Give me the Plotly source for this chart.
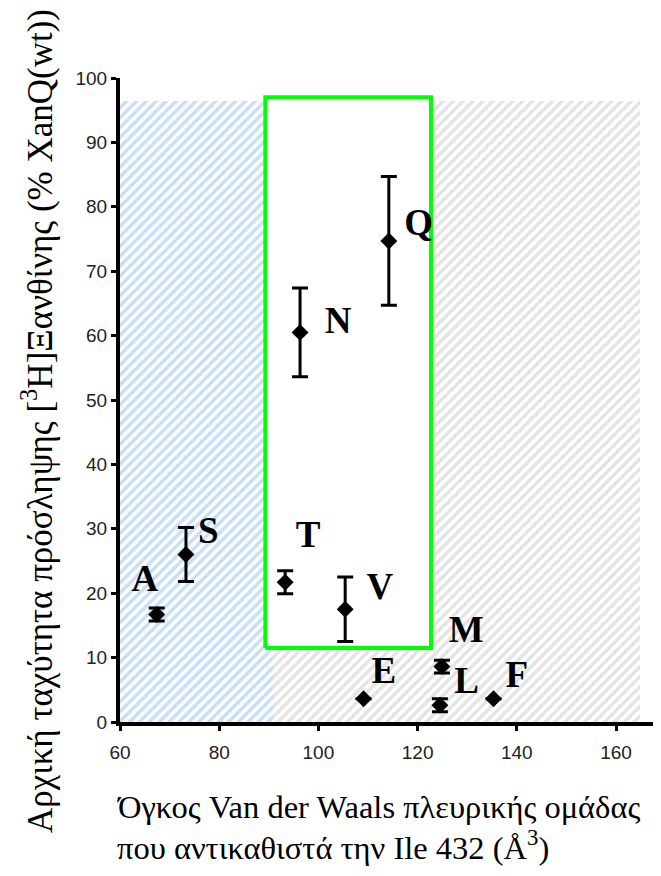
import plotly.graph_objects as go

# ---- data ----
labels = ["A", "S", "T", "N", "V", "Q", "E", "M", "L", "F"]
volume = [67.4, 73.3, 93.3, 96.3, 105.4, 114.2, 109.1, 124.9, 124.5, 135.3]
uptake = [16.7, 26.0, 21.7, 60.5, 17.5, 74.7, 3.6, 8.6, 2.6, 3.6]
error = [1.0, 4.2, 1.8, 6.9, 5.0, 10.0, 0.0, 1.0, 1.0, 0.0]

label_x = [65.0, 77.8, 97.9, 104.0, 112.4, 120.2, 113.2, 129.8, 129.9, 140.0]
label_y = [21.8, 29.3, 28.6, 61.9, 20.6, 77.0, 7.5, 13.8, 6.0, 6.9]

# shaded regions: [x0, x1, y0, y1]
blue_region = [60.0, 90.8, 0.0, 96.5]
gray_region = [90.8, 164.8, 0.0, 96.5]
green_box = [89.3, 122.7, 11.5, 97.0]

x_ticks = [60, 80, 100, 120, 140, 160]
y_ticks = [0, 10, 20, 30, 40, 50, 60, 70, 80, 90, 100]

x_title_1 = "Όγκος Van der Waals πλευρικής ομάδας"
x_title_2 = "που αντικαθιστά την Ile 432 (Å<sup>3</sup>)"
y_title = "Αρχική ταχύτητα πρόσληψης [<sup>3</sup>H]Ξανθίνης (% XanQ(wt))"

# page body has an 8px margin: figure is sized to fit inside the window
W, H = 645, 860
L, R, T, B = 112, 0, 70, 146
PW, PH = W - L - R, H - T - B
X_PER_UNIT = 4.96
x_max = 60 + PW / X_PER_UNIT

fig = go.Figure()

def region_bar(reg, fg):
    x0, x1, y0, y1 = reg
    return go.Bar(
        x=[(x0 + x1) / 2], y=[y1 - y0], base=[y0], width=[x1 - x0],
        marker=dict(color="white", line=dict(width=0),
                    pattern=dict(shape="/", fgcolor=fg, bgcolor="white",
                                 size=7, solidity=0.5, fillmode="overlay")),
        hoverinfo="skip", showlegend=False)

fig.add_trace(region_bar(blue_region, "#8dbff0"))
fig.add_trace(region_bar(gray_region, "#c8c8c8"))

# green box (white filled)
gx0, gx1, gy0, gy1 = green_box
fig.add_trace(go.Scatter(
    x=[gx0, gx1, gx1, gx0, gx0], y=[gy0, gy0, gy1, gy1, gy0],
    mode="lines", fill="toself", fillcolor="white",
    line=dict(color="#00ff00", width=4), hoverinfo="skip", showlegend=False))

# data points
fig.add_trace(go.Scatter(
    x=volume, y=uptake, mode="markers",
    marker=dict(symbol="diamond", size=13, color="black"),
    error_y=dict(type="data", array=error, visible=True, color="black",
                 thickness=3, width=8),
    showlegend=False))

# labels
fig.add_trace(go.Scatter(
    x=label_x, y=label_y, mode="text", text=labels,
    textfont=dict(family="Liberation Serif", size=37, color="black", weight="bold"),
    textposition="middle center", showlegend=False, hoverinfo="skip"))

fig.update_layout(
    width=W, height=H,
    margin=dict(l=L, r=R, t=T, b=B, autoexpand=False),
    paper_bgcolor="white", plot_bgcolor="white",
    barmode="overlay", bargap=0,
    font=dict(family="Liberation Sans", size=19, color="#222"),
)
fig.update_xaxes(
    range=[60, x_max], tickvals=x_ticks, showgrid=False, zeroline=False,
    showline=True, linewidth=4, linecolor="black", automargin=False,
    ticks="outside", ticklen=5, tickwidth=3, tickcolor="black",
    ticklabelstandoff=5,
    tickfont=dict(family="Liberation Sans", size=19, color="#222"))
fig.update_yaxes(
    range=[0, 100], tickvals=y_ticks, showgrid=False, zeroline=False,
    showline=True, linewidth=4, linecolor="black", automargin=False,
    ticks="outside", ticklen=5, tickwidth=3, tickcolor="black",
    tickfont=dict(family="Liberation Sans", size=19, color="#222"))

def px_x(page_x):
    return (page_x - 8 - L) / PW

def px_y(page_y):
    return (H - B - (page_y - 8)) / PH

fig.add_annotation(
    text=x_title_1, xref="paper", yref="paper", x=px_x(115), y=px_y(807),
    xanchor="left", yanchor="middle", align="left", showarrow=False,
    font=dict(family="Liberation Serif", size=32.5, color="black"))
fig.add_annotation(
    text=x_title_2, xref="paper", yref="paper", x=px_x(115), y=px_y(845),
    xanchor="left", yanchor="middle", align="left", showarrow=False,
    font=dict(family="Liberation Serif", size=32.5, color="black"))
fig.add_annotation(
    text=y_title, xref="paper", yref="paper",
    x=px_x(38), y=px_y(421),
    xanchor="center", yanchor="middle", textangle=-90, showarrow=False,
    font=dict(family="Liberation Serif", size=35, color="black"))

fig.write_html("out.html")
